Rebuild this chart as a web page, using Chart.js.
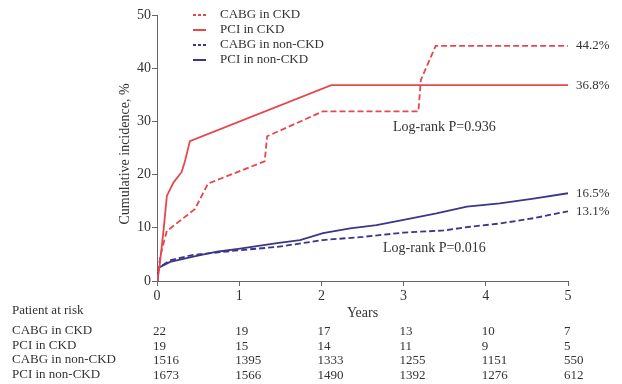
<!DOCTYPE html>
<html><head><meta charset="utf-8">
<script src="https://cdn.jsdelivr.net/npm/chart.js@4"></script>
<style>html,body{margin:0;padding:0;background:#fff}#wrap{width:622px;height:384px}</style>
</head><body><div id="wrap"><canvas id="c" width="622" height="384"></canvas></div>
<script>
// ---- data ----
const seriesNames = ['CABG in CKD', 'PCI in CKD', 'CABG in non-CKD', 'PCI in non-CKD'];
const cabgCkdX = [0, 0.02, 0.04, 0.085, 0.12, 0.46, 0.62, 1.31, 1.34, 2.02, 3.18, 3.21, 3.39, 5];
const cabgCkdY = [0, 2.5, 4.6, 7.4, 9.4, 13.5, 18.3, 22.5, 27.2, 31.9, 31.9, 37.8, 44.2, 44.2];
const pciCkdX = [0, 0.02, 0.04, 0.08, 0.12, 0.2, 0.3, 0.34, 0.4, 2.12, 5];
const pciCkdY = [0, 1.5, 4, 9.6, 16, 18.5, 20.5, 22.5, 26.3, 36.8, 36.8];
const cabgNonX = [0, 0.01, 0.02, 0.16, 0.44, 1.01, 1.46, 2.02, 2.51, 3.0, 3.49, 3.81, 4.17, 4.58, 5];
const cabgNonY = [0, 1.5, 2.5, 3.9, 4.9, 5.8, 6.4, 7.7, 8.3, 9.1, 9.5, 10.2, 10.8, 11.8, 13.1];
const pciNonX = [0, 0.01, 0.02, 0.16, 0.44, 0.73, 1.01, 1.46, 1.74, 2.02, 2.35, 2.67, 3.0, 3.4, 3.77, 4.17, 4.58, 5];
const pciNonY = [0, 1.5, 2.5, 3.6, 4.6, 5.5, 6.1, 7.1, 7.7, 9.0, 9.9, 10.5, 11.5, 12.7, 14.0, 14.6, 15.5, 16.5];
const yearTicks = [0, 1, 2, 3, 4, 5];
const yTicks = [0, 10, 20, 30, 40, 50];
const riskCabgCkd = [22, 19, 17, 13, 10, 7];
const riskPciCkd = [19, 15, 14, 11, 9, 5];
const riskCabgNon = [1516, 1395, 1333, 1255, 1151, 550];
const riskPciNon = [1673, 1566, 1490, 1392, 1276, 612];
const logRankTexts = ['Log-rank P=0.936', 'Log-rank P=0.016'];

const RED = '#e5484c', NAVY = '#3b3688', TXT = '#333', FONT = '"Liberation Serif", "DejaVu Serif", serif';
const zip = (xs, ys) => xs.map((x, i) => ({x, y: ys[i]}));

const seriesX = [cabgCkdX, pciCkdX, cabgNonX, pciNonX];
const seriesY = [cabgCkdY, pciCkdY, cabgNonY, pciNonY];
const colors = [RED, RED, NAVY, NAVY];
const dashes = [[6, 3], [], [6, 3], []];
const riskRows = [riskCabgCkd, riskPciCkd, riskCabgNon, riskPciNon];

const overlay = {
  id: 'overlay',
  afterDraw(chart) {
    const ctx = chart.ctx, xs = chart.scales.x, ys = chart.scales.y;
    ctx.save();
    ctx.fillStyle = TXT;
    ctx.textBaseline = 'middle';
    // legend
    ctx.font = '13px ' + FONT;
    seriesNames.forEach((n, i) => {
      const y = 15 + i * 15;
      ctx.strokeStyle = colors[i]; ctx.lineWidth = 2;
      ctx.setLineDash(dashes[i].length ? [3, 2] : []);
      ctx.beginPath(); ctx.moveTo(193, y); ctx.lineTo(206, y); ctx.stroke();
      ctx.setLineDash([]);
      ctx.textAlign = 'left';
      ctx.fillText(n, 220, y);
    });
    // end labels
    ctx.font = '13px ' + FONT;
    seriesY.forEach(arr => {
      const v = arr[arr.length - 1];
      ctx.fillText(v.toFixed(1) + '%', xs.getPixelForValue(5) + 8, ys.getPixelForValue(v));
    });
    // log-rank
    ctx.font = '14px ' + FONT;
    ctx.fillText(logRankTexts[0], xs.getPixelForValue(2.87), ys.getPixelForValue(28.8));
    ctx.fillText(logRankTexts[1], xs.getPixelForValue(2.75), ys.getPixelForValue(6.2));
    // y title
    ctx.save();
    ctx.translate(125, (chart.chartArea.top + chart.chartArea.bottom) / 2 + 6);
    ctx.rotate(-Math.PI / 2);
    ctx.textAlign = 'center';
    ctx.font = '14px ' + FONT;
    ctx.fillText('Cumulative incidence, %', 0, 0);
    ctx.restore();
    // x title
    ctx.textAlign = 'center';
    ctx.font = '14px ' + FONT;
    ctx.fillText('Years', (chart.chartArea.left + chart.chartArea.right) / 2, 313);
    // risk table
    ctx.textAlign = 'left';
    ctx.font = '13px ' + FONT;
    ctx.fillText('Patient at risk', 12, 311);
    riskRows.forEach((row, r) => {
      const y = 331 + r * 14.5;
      ctx.fillText(seriesNames[r], 12, y);
      row.forEach((v, i) => ctx.fillText(String(v), xs.getPixelForValue(yearTicks[i]) - 4, y + 1));
    });
    ctx.restore();
  }
};

new Chart(document.getElementById('c'), {
  type: 'scatter',
  data: {
    datasets: seriesNames.map((n, i) => ({
      label: n,
      data: zip(seriesX[i], seriesY[i]),
      showLine: true,
      borderColor: colors[i],
      borderWidth: 1.8,
      borderDash: dashes[i],
      pointRadius: 0,
      tension: 0,
      fill: false
    }))
  },
  options: {
    responsive: false,
    animation: false,
    devicePixelRatio: 1,
    layout: {padding: {left: 117, right: 54, top: 15, bottom: 78}},
    plugins: {legend: {display: false}, tooltip: {enabled: false}},
    scales: {
      x: {
        type: 'linear', min: 0, max: 5,
        afterBuildTicks: s => { s.ticks = yearTicks.map(v => ({value: v})); },
        afterFit: s => { s.height = 25; },
        grid: {drawOnChartArea: false, drawTicks: true, tickLength: 5, color: '#666', lineWidth: 1},
        border: {display: true, color: '#666', width: 1},
        ticks: {font: {family: FONT, size: 14}, color: TXT, padding: 2, maxRotation: 0}
      },
      y: {
        type: 'linear', min: 0, max: 50,
        afterBuildTicks: s => { s.ticks = yTicks.map(v => ({value: v})); },
        afterFit: s => { s.width = 40; },
        grid: {drawOnChartArea: false, drawTicks: true, tickLength: 5, color: '#666', lineWidth: 1},
        border: {display: true, color: '#666', width: 1},
        ticks: {font: {family: FONT, size: 14}, color: TXT, padding: 1}
      }
    }
  },
  plugins: [overlay]
});
</script></body></html>
